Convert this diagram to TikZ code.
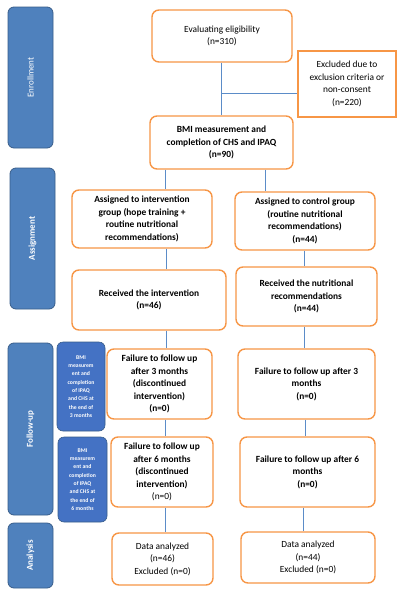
\documentclass[tikz,border=0pt]{standalone}
\usepackage{fontspec}
\setmainfont{Carlito}
\definecolor{boxorange}{HTML}{F79646}
\definecolor{barblue}{HTML}{4F81BD}
\definecolor{barline}{HTML}{385D8A}
\definecolor{smallblue}{HTML}{4472C4}
\definecolor{linkblue}{HTML}{5B8CC8}
\tikzset{
  stage/.style={draw=boxorange, line width=1.4pt, fill=white, rounded corners=7pt,
    align=center, inner sep=2pt, font=\fontsize{9.4}{12.5}\selectfont},
  boldstage/.style={stage, font=\fontsize{9.4}{12.5}\selectfont\bfseries},
  bar/.style={draw=barline, line width=0.8pt, fill=barblue, rounded corners=6pt,
    inner sep=0pt},
  barlabel/.style={rotate=90, text=white, font=\fontsize{9}{10}\selectfont\bfseries},
  note/.style={draw=barline, line width=0.6pt, fill=smallblue, rounded corners=6pt,
    text=white, align=center, inner sep=0pt, font=\fontsize{5.7}{8.3}\selectfont\bfseries},
  link/.style={draw=linkblue, line width=0.7pt}
}
\begin{document}
\begin{tikzpicture}[x=1pt, y=-1pt]
  \useasboundingbox[fill=white] (0,0) rectangle (406,598);
  % side bars
  \node[bar, minimum width=45pt, minimum height=141pt] (enr) at (30.5,77.5) {};
  \node[barlabel, font=\fontsize{9}{10}\selectfont] at (enr.center) {Enrollment};
  \node[bar, minimum width=45pt, minimum height=141pt] (asg) at (32.5,238.5) {};
  \node[barlabel] at (asg.center) {Assignment};
  \node[bar, minimum width=45pt, minimum height=172pt] (fol) at (30.5,429) {};
  \node[barlabel] at (fol.center) {Follow-up};
  \node[bar, minimum width=45pt, minimum height=65pt] (ana) at (30.5,555.5) {};
  \node[barlabel] at (ana.center) {Analysis};
  \node[note, minimum width=48pt, minimum height=89pt] (bmi3) at (81,386.5)
    {BMI\\measurem\\ent and\\completion\\of IPAQ\\and CHS at\\the end of\\3 months};
  \node[note, minimum width=49pt, minimum height=85pt] (bmi6) at (82.5,479.5)
    {BMI\\measurem\\ent and\\completion\\of IPAQ\\and CHS at\\the end of\\6 months};
  % boxes
  \node[stage, minimum width=140pt, minimum height=52pt] (elig) at (222,36)
    {Evaluating eligibility\\(n=310)};
  \node[stage, line width=2.2pt, rounded corners=0pt,
    minimum width=98pt, minimum height=66pt] (excl) at (347,84)
    {Excluded due to\\exclusion criteria or\\non-consent\\(n=220)};
  \node[boldstage, minimum width=143pt, minimum height=53pt] (bmi) at (221.5,142.5)
    {BMI measurement and\\completion of CHS and IPAQ\\(n=90)};
  \node[boldstage, minimum width=140pt, minimum height=58pt] (asgI) at (142,219)
    {Assigned to intervention\\group (hope training +\\routine nutritional\\recommendations)};
  \node[boldstage, minimum width=140pt, minimum height=58pt] (asgC) at (305,221)
    {Assigned to control group\\(routine nutritional\\recommendations)\\(n=44)};
  \node[boldstage, minimum width=154pt, minimum height=60pt] (recI) at (149,300)
    {Received the intervention\\(n=46)};
  \node[boldstage, minimum width=141pt, minimum height=59pt] (recC) at (306.5,296.5)
    {Received the nutritional\\recommendations\\(n=44)};
  \node[boldstage, minimum width=105pt, minimum height=70pt] (fu3I) at (159.5,384)
    {Failure to follow up\\after 3 months\\(discontinued\\intervention)\\(n=0)};
  \node[boldstage, minimum width=137pt, minimum height=70pt] (fu3C) at (306.5,384)
    {Failure to follow up after 3\\months\\(n=0)};
  \node[boldstage, minimum width=102pt, minimum height=70pt] (fu6I) at (162,472)
    {Failure to follow up\\after 6 months\\(discontinued\\intervention)\\\mdseries(n=0)};
  \node[boldstage, minimum width=135pt, minimum height=70pt] (fu6C) at (307.5,472)
    {Failure to follow up after 6\\months\\(n=0)};
  \node[stage, minimum width=101pt, minimum height=52pt] (datI) at (162.5,559)
    {Data analyzed\\(n=46)\\Excluded (n=0)};
  \node[stage, minimum width=134pt, minimum height=51pt] (datC) at (308,557.5)
    {Data analyzed\\(n=44)\\Excluded (n=0)};
  % connectors
  \coordinate (split) at (221,93);
  \draw[link] ([xshift=-1pt]elig.south) -- (bmi.north -| split);
  \draw[link] (split) -- (excl.west |- split);
  \draw[link] ([xshift=-56.5pt]bmi.south) -- ([xshift=-56.5pt]bmi.south |- asgI.north);
  \draw[link] ([xshift=43.5pt]bmi.south) -- ([xshift=43.5pt]bmi.south |- asgC.north);
  \draw[link] ([xshift=24pt]asgI.south) -- ([xshift=24pt]asgI.south |- recI.north);
  \draw[link] ([xshift=-1pt]asgC.south) -- ([xshift=-1pt]asgC.south |- recC.north);
  \draw[link] ([xshift=17pt]recI.south) -- ([xshift=17pt]recI.south |- fu3I.north);
  \draw[link] ([xshift=-2.5pt]recC.south) -- ([xshift=-2.5pt]recC.south |- fu3C.north);
  \draw[link] ([xshift=5.5pt]fu3I.south) -- ([xshift=5.5pt]fu3I.south |- fu6I.north);
  \draw[link] ([xshift=-1.5pt]fu3C.south) -- ([xshift=-1.5pt]fu3C.south |- fu6C.north);
  \draw[link] ([xshift=3pt]fu6I.south) -- ([xshift=3pt]fu6I.south |- datI.north);
  \draw[link] ([xshift=-4.5pt]fu6C.south) -- ([xshift=-4.5pt]fu6C.south |- datC.north);
\end{tikzpicture}
\end{document}
